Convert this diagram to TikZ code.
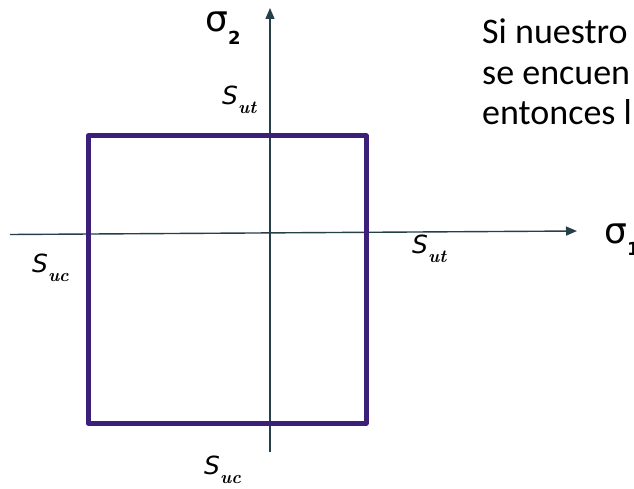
\documentclass[tikz,border=0pt]{standalone}
\usepackage{fontspec}
\usepackage{tikz}
\usetikzlibrary{arrows.meta}
\newfontfamily\calibri{Carlito}
\newfontfamily\greekfont{DejaVu Sans}
\definecolor{BoundPurple}{HTML}{3B1F78}
\definecolor{AxisSlate}{HTML}{263F4B}
\newcommand{\slabel}[1]{{\greekfont\itshape S}\raisebox{-9pt}{\fontsize{18}{18}\selectfont\bfseries\itshape #1}}
\newcommand{\sigmalabel}[1]{\greekfont σ\raisebox{-13pt}{\fontsize{18}{18}\selectfont\bfseries #1}}

\begin{document}
\begin{tikzpicture}[x=1pt, y=-1pt,
    axis/.style={draw=AxisSlate, line width=1.4pt, -{Triangle[length=11pt, width=9pt]}},
    bound/.style={draw=BoundPurple, line width=5pt, line join=round},
    lbl/.style={anchor=base west, inner sep=0pt, font=\fontsize{25}{25}\selectfont},
    sig/.style={anchor=base west, inner sep=0pt, font=\fontsize{36}{36}\selectfont}]
  \useasboundingbox (0,0) rectangle (634,489);
  \clip (0,0) rectangle (634,489);

  % axes
  \coordinate (xleft) at (10,234.5);
  \coordinate (xright) at (577,231);
  \coordinate (ybottom) at (270,452);
  \coordinate (ytop) at (270,8);
  \draw[axis] (xleft) -- (xright);
  \draw[axis] (ybottom) -- (ytop);

  % failure envelope
  \coordinate (tl) at (88,136);
  \coordinate (br) at (366,423);
  \draw[bound] (tl) rectangle (br);

  % labels
  \node[sig] (sigtwo) at (205,32) {\sigmalabel{2}};
  \node[sig] (sigone) at (604,243) {\sigmalabel{1}};
  \node[lbl] (uttop) at (222,105) {\slabel{ut}};
  \node[lbl] (utright) at (412,253) {\slabel{ut}};
  \node[lbl] (ucleft) at (32,272) {\slabel{uc}};
  \node[lbl] (ucbottom) at (204,474) {\slabel{uc}};

  % side text (base = last line)
  \node[anchor=base west, inner sep=0pt, align=left,
        font=\calibri\fontsize{36}{40.5}\selectfont] (note) at (482,125)
    {Si nuestro\\se encuen\\entonces l};
\end{tikzpicture}
\end{document}
